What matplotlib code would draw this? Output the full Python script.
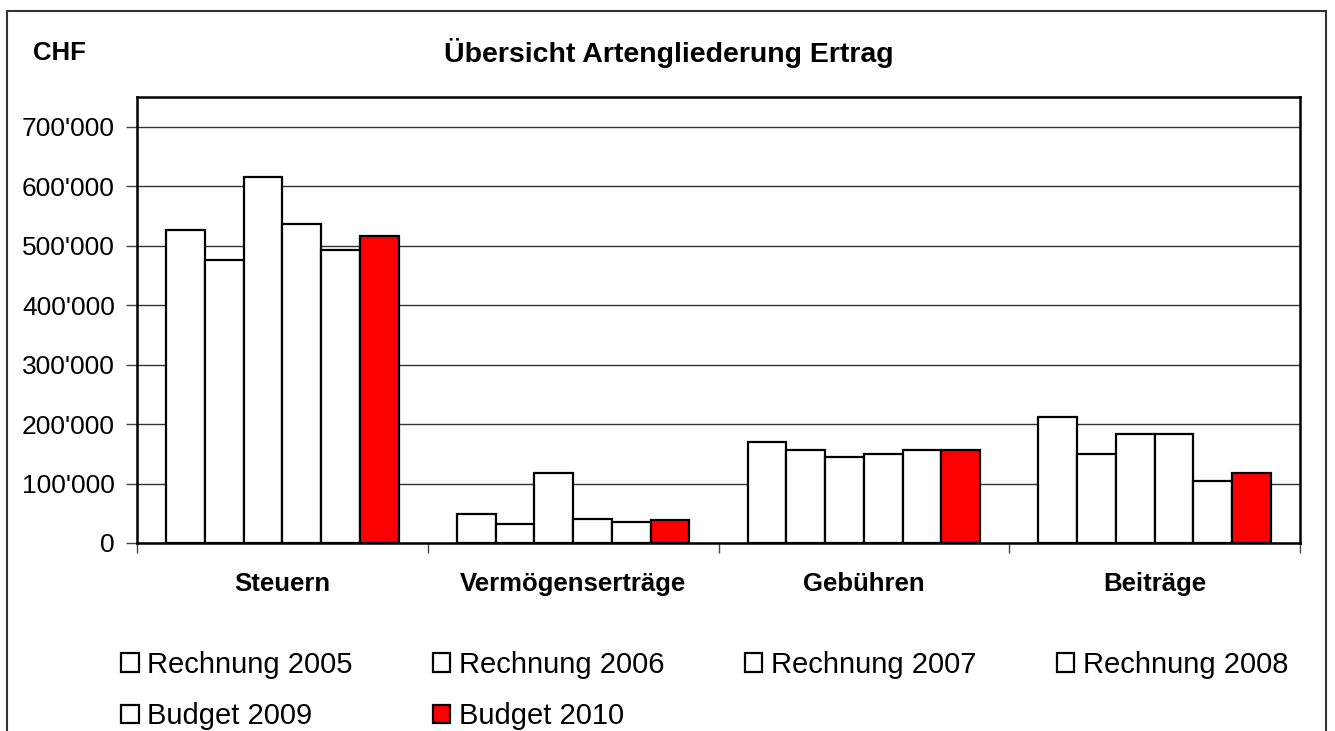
import numpy as np
import matplotlib.pyplot as plt
from matplotlib.patches import Rectangle
from matplotlib.ticker import FuncFormatter

plt.rcParams['font.family'] = ['Liberation Sans', 'DejaVu Sans']

# data (CHF)
categories = ['Steuern', 'Vermögenserträge', 'Gebühren', 'Beiträge']
series = ['Rechnung 2005', 'Rechnung 2006', 'Rechnung 2007',
          'Rechnung 2008', 'Budget 2009', 'Budget 2010']
rechnung_2005 = [527000, 48600, 170000, 212000]
rechnung_2006 = [476000, 32500, 156000, 149000]
rechnung_2007 = [615000, 118000, 144000, 184000]
rechnung_2008 = [536000, 41000, 150000, 183000]
budget_2009 = [493000, 35000, 157000, 104000]
budget_2010 = [517000, 38000, 157000, 117000]
values = [rechnung_2005, rechnung_2006, rechnung_2007,
          rechnung_2008, budget_2009, budget_2010]
colors = ['white', 'white', 'white', 'white', 'white', '#FF0000']
y_ticks = [0, 100000, 200000, 300000, 400000, 500000, 600000, 700000]

fig = plt.figure(figsize=(13.35, 7.31), dpi=100)
ax = fig.add_axes([137 / 1335, 1 - 543 / 731, 1163 / 1335, 446 / 731])

x = np.arange(len(categories))
w = 1 / 7.5
bars = []
for i, (vals, c) in enumerate(zip(values, colors)):
    b = ax.bar(x + (i - 2.5) * w, vals, width=w, color=c,
               edgecolor='black', linewidth=1.6, zorder=3, label=series[i])
    bars.append(b)

ax.set_xlim(-0.5, len(categories) - 0.5)
ax.set_ylim(0, 750000)
ax.set_yticks(y_ticks)
ax.yaxis.set_major_formatter(FuncFormatter(lambda v, p: f"{int(v):,}".replace(',', "'")))
ax.yaxis.grid(True, color='#333333', linewidth=1.0, zorder=0)

ax.set_xticks(x)
ax.set_xticklabels(categories, fontsize=18.5, fontweight='bold')
ax.set_xticks(np.arange(-0.5, len(categories)), minor=True)
ax.tick_params(axis='x', which='major', length=0, pad=21)
ax.tick_params(axis='x', which='minor', length=7, width=1, color='#444444', direction='out')
ax.tick_params(axis='y', length=8, width=1, color='#444444', pad=8, labelsize=19)

for s in ax.spines.values():
    s.set_linewidth(1.8)
    s.set_color('black')

fig.text(669 / 1335, 1 - 53 / 731, 'Übersicht Artengliederung Ertrag',
         fontsize=20.5, fontweight='bold', ha='center', va='center')
fig.text(33 / 1335, 1 - 53 / 731, 'CHF', fontsize=18.5, fontweight='bold',
         ha='left', va='center')

# legend filled column by column, reorder so it reads row by row
order = [0, 4, 1, 5, 2, 3]
fig.legend([bars[k] for k in order], [series[k] for k in order],
           ncol=4, loc='upper left', bbox_to_anchor=(121 / 1335, 1 - 651 / 731),
           frameon=False, fontsize=21, handlelength=0.6, handleheight=0.6,
           handletextpad=0.3, columnspacing=2.75, labelspacing=0.8,
           borderpad=0, borderaxespad=0)

# outer chart frame
fig.patches.append(Rectangle((7 / 1335, -0.05), 1319 / 1335, 1.05 - 11 / 731,
                             transform=fig.transFigure, fill=False,
                             edgecolor='#333333', linewidth=1.5))

fig.savefig('out.png', dpi=100)
